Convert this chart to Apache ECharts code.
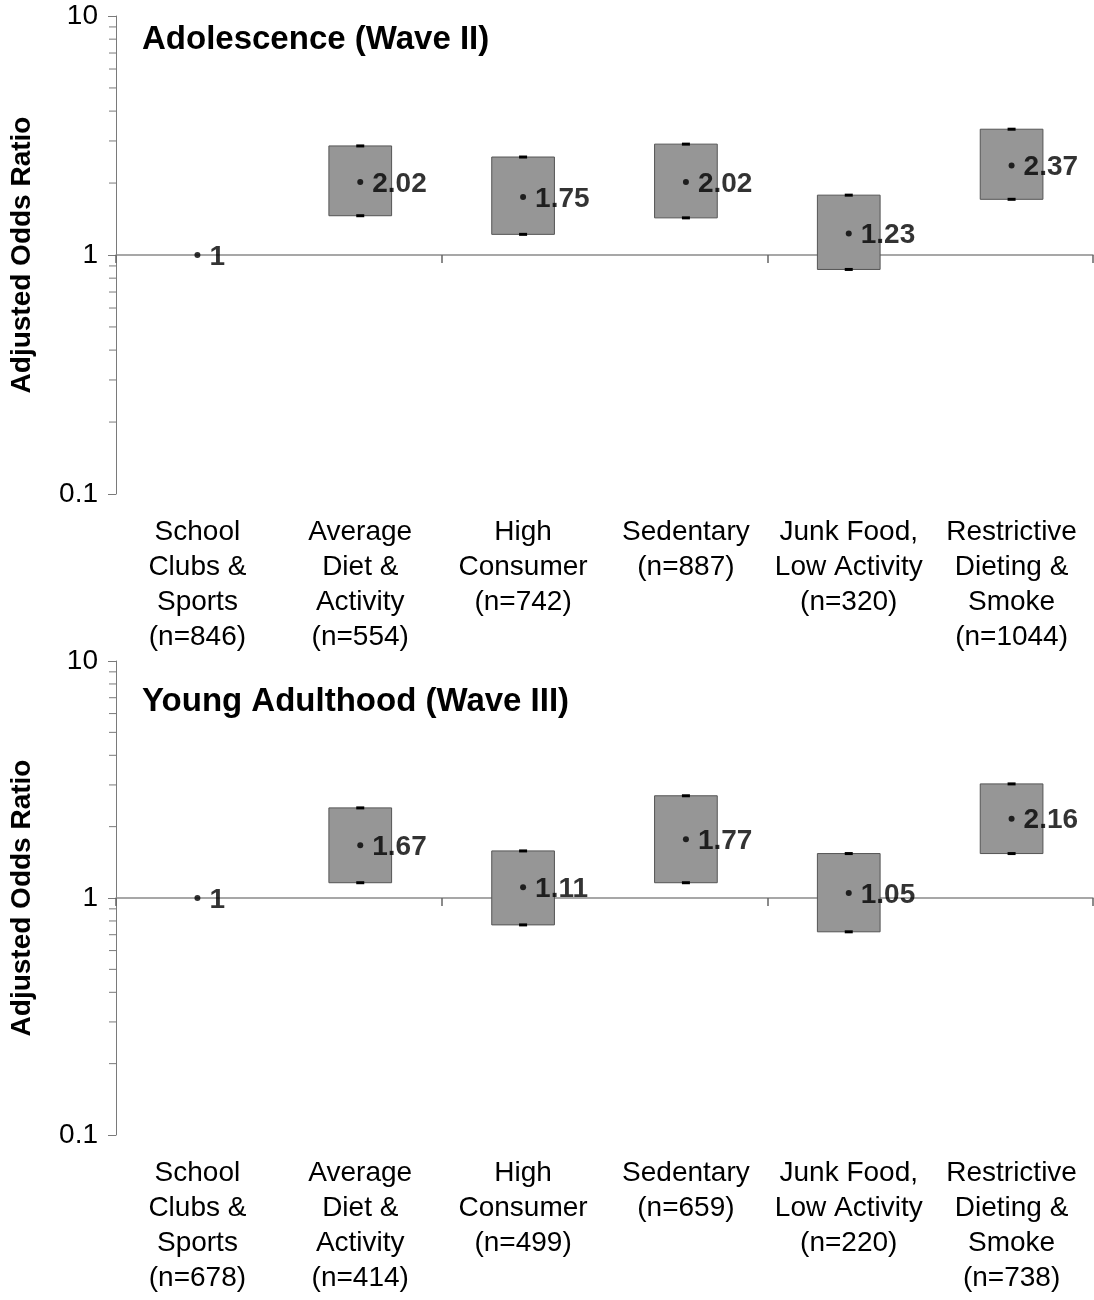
<!DOCTYPE html>
<html>
<head>
<meta charset="utf-8">
<script src="https://cdn.jsdelivr.net/npm/echarts@6/dist/echarts.min.js"></script>
<style>
  html, body { margin: 0; padding: 0; background: #fff; }
  #chart { width: 1094px; height: 1300px; }
</style>
</head>
<body>
<div id="chart"></div>
<script>
// Wave II (adolescence)
const catsWave2 = ['School\nClubs &\nSports\n(n=846)', 'Average\nDiet &\nActivity\n(n=554)', 'High\nConsumer\n(n=742)',
  'Sedentary\n(n=887)', 'Junk Food,\nLow Activity\n(n=320)', 'Restrictive\nDieting &\nSmoke\n(n=1044)'];
const orWave2 = [1, 2.02, 1.75, 2.02, 1.23, 2.37];
const lowWave2 = [null, 1.46, 1.22, 1.43, 0.87, 1.71];
const highWave2 = [null, 2.86, 2.57, 2.91, 1.78, 3.36];

// Wave III (young adulthood)
const catsWave3 = ['School\nClubs &\nSports\n(n=678)', 'Average\nDiet &\nActivity\n(n=414)', 'High\nConsumer\n(n=499)',
  'Sedentary\n(n=659)', 'Junk Food,\nLow Activity\n(n=220)', 'Restrictive\nDieting &\nSmoke\n(n=738)'];
const orWave3 = [1, 1.67, 1.11, 1.77, 1.05, 2.16];
const lowWave3 = [null, 1.16, 0.77, 1.16, 0.72, 1.54];
const highWave3 = [null, 2.40, 1.58, 2.70, 1.54, 3.03];

// minor ticks of the log axis
const minorTicks = [0.2, 0.3, 0.4, 0.5, 0.6, 0.7, 0.8, 0.9, 2, 3, 4, 5, 6, 7, 8, 9];

const FONT = "'Liberation Sans', Arial, sans-serif";
const AXIS_COLOR = '#7a7a7a';

const chart = echarts.init(document.getElementById('chart'));

const panels = [
  { title: 'Adolescence (Wave II)', cats: catsWave2, est: orWave2, low: lowWave2, high: highWave2, top: 16, height: 478, titleTop: 18 },
  { title: 'Young Adulthood (Wave III)', cats: catsWave3, est: orWave3, low: lowWave3, high: highWave3, top: 661, height: 474, titleTop: 680 }
];

function renderBox(params, api) {
  const idx = api.value(0);
  const top = api.coord([idx, api.value(2)]);
  const bot = api.coord([idx, api.value(1)]);
  const w = api.size([1, 1])[0] * 0.385;
  return {
    type: 'group',
    children: [
      { type: 'rect', shape: { x: top[0] - w / 2, y: top[1], width: w, height: bot[1] - top[1] },
        style: { fill: '#969696', stroke: '#555', lineWidth: 1 } },
      { type: 'rect', shape: { x: top[0] - 4, y: top[1] - 1.5, width: 8, height: 3 }, style: { fill: '#000' } },
      { type: 'rect', shape: { x: bot[0] - 4, y: bot[1] - 1.5, width: 8, height: 3 }, style: { fill: '#000' } }
    ]
  };
}

function renderMinor(params, api) {
  const p = api.coord([0, api.value(1)]);
  const x0 = params.coordSys.x;
  return { type: 'line', shape: { x1: x0 - 7, y1: p[1], x2: x0, y2: p[1] },
    style: { stroke: AXIS_COLOR, lineWidth: 1 } };
}

const option = { animation: false, title: [], grid: [], xAxis: [], yAxis: [], series: [] };

panels.forEach((pn, g) => {
  option.title.push({
    text: pn.title, left: 137, top: pn.titleTop,
    textStyle: { fontFamily: FONT, fontSize: 33, fontWeight: 'bold', color: '#000' }
  });
  option.grid.push({ left: 116, right: 1, top: pn.top, height: pn.height });
  // labels axis at the bottom
  option.xAxis.push({
    type: 'category', gridIndex: g, data: pn.cats, position: 'bottom',
    axisLine: { show: false }, axisTick: { show: false },
    axisLabel: { interval: 0, margin: 21, fontFamily: FONT, fontSize: 28, lineHeight: 35, color: '#000' }
  });
  // line through OR = 1
  option.xAxis.push({
    type: 'category', gridIndex: g, data: pn.cats, position: 'bottom', offset: -pn.height / 2,
    axisLine: { show: true, lineStyle: { color: '#8a8a8a', width: 1.5 } },
    axisTick: { show: true, interval: 1, length: 8, lineStyle: { color: '#666', width: 1.5 } },
    axisLabel: { show: false }
  });
  option.yAxis.push({
    type: 'log', gridIndex: g, logBase: 10, min: 0.1, max: 10, interval: 1,
    name: 'Adjusted Odds Ratio', nameLocation: 'middle', nameRotate: 90, nameGap: 80,
    nameTextStyle: { fontFamily: FONT, fontSize: 28, fontWeight: 'bold', color: '#000' },
    axisLine: { show: true, lineStyle: { color: AXIS_COLOR, width: 1 } },
    axisTick: { show: true, length: 8, lineStyle: { color: AXIS_COLOR } },
    axisLabel: { margin: 18, fontFamily: FONT, fontSize: 28, color: '#000',
      formatter: v => (v < 1 ? v.toFixed(1) : String(Math.round(v))) },
    splitLine: { show: false }
  });

  const boxData = [];
  pn.low.forEach((lo, i) => { if (lo !== null) boxData.push([i, lo, pn.high[i]]); });

  option.series.push({
    type: 'custom', xAxisIndex: g * 2, yAxisIndex: g, renderItem: renderBox,
    data: boxData, encode: { x: 0, y: [1, 2] }, silent: true, z: 2
  });
  option.series.push({
    type: 'custom', xAxisIndex: g * 2, yAxisIndex: g, renderItem: renderMinor,
    data: minorTicks.map(v => [0, v]), encode: { x: 0, y: 1 }, silent: true, clip: false
  });
  option.series.push({
    type: 'scatter', xAxisIndex: g * 2, yAxisIndex: g, data: pn.est,
    symbol: 'circle', symbolSize: 6, itemStyle: { color: '#000' }, z: 5, silent: true,
    label: { show: true, position: 'right', distance: 9, fontFamily: FONT, fontSize: 28,
      fontWeight: 'bold', color: '#000', offset: [0, 2], formatter: p => String(p.value) }
  });
});

chart.setOption(option);
</script>
</body>
</html>
